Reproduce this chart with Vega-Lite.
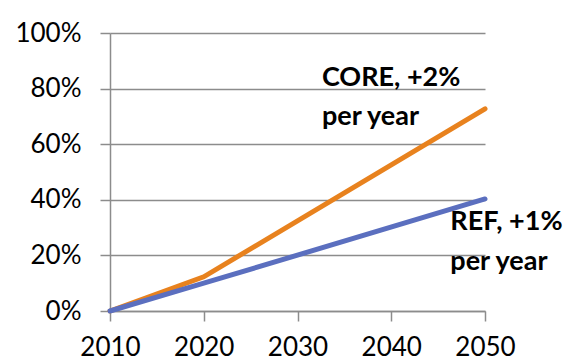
{
  "$schema": "https://vega.github.io/schema/vega-lite/v6.json",
  "width": 375,
  "height": 278,
  "autosize": "none",
  "padding": {"left": 110, "top": 33, "right": 99, "bottom": 51},
  "background": "white",
  "config": {
    "view": {"stroke": null},
    "font": "Lato",
    "axis": {
      "labelFont": "Lato",
      "labelFontSize": 26,
      "labelColor": "#000000",
      "domainColor": "#8c8c8c",
      "tickColor": "#8c8c8c",
      "gridColor": "#8c8c8c",
      "domainWidth": 1.5,
      "tickWidth": 1.5,
      "gridWidth": 1.5,
      "tickSize": 10,
      "title": null
    }
  },
  "datasets": {
    "series": [
      {"year": 2010, "share": 0.0, "scenario": "CORE"},
      {"year": 2020, "share": 0.123, "scenario": "CORE"},
      {"year": 2050, "share": 0.727, "scenario": "CORE"},
      {"year": 2010, "share": 0.0, "scenario": "REF"},
      {"year": 2020, "share": 0.10, "scenario": "REF"},
      {"year": 2050, "share": 0.403, "scenario": "REF"}
    ],
    "labels": [
      {"year": 2032.6, "share": 0.838, "text": "CORE, +2%"},
      {"year": 2032.6, "share": 0.698, "text": "per year"},
      {"year": 2046.3, "share": 0.32, "text": "REF, +1%"},
      {"year": 2046.3, "share": 0.176, "text": "per year"}
    ]
  },
  "layer": [
    {
      "data": {"name": "series"},
      "mark": {"type": "line", "strokeWidth": 5, "strokeCap": "round"},
      "encoding": {
        "x": {
          "field": "year",
          "type": "quantitative",
          "scale": {"domain": [2010, 2050], "nice": false, "zero": false},
          "axis": {"values": [2010, 2020, 2030, 2040, 2050], "format": "d", "grid": false, "labelPadding": 13, "labelFlush": false}
        },
        "y": {
          "field": "share",
          "type": "quantitative",
          "scale": {"domain": [0, 1], "nice": false},
          "axis": {"values": [0, 0.2, 0.4, 0.6, 0.8, 1], "format": ".0%", "grid": true, "labelPadding": 19, "labelFlush": false}
        },
        "color": {
          "field": "scenario",
          "type": "nominal",
          "scale": {"domain": ["CORE", "REF"], "range": ["#E8821E", "#5B6FBF"]},
          "legend": null
        },
        "order": {"field": "year"}
      }
    },
    {
      "data": {"name": "labels"},
      "mark": {"type": "text", "align": "left", "baseline": "middle", "fontWeight": "bold", "fontSize": 27, "font": "Lato", "color": "#000000"},
      "encoding": {
        "x": {"field": "year", "type": "quantitative"},
        "y": {"field": "share", "type": "quantitative"},
        "text": {"field": "text"}
      }
    }
  ]
}
